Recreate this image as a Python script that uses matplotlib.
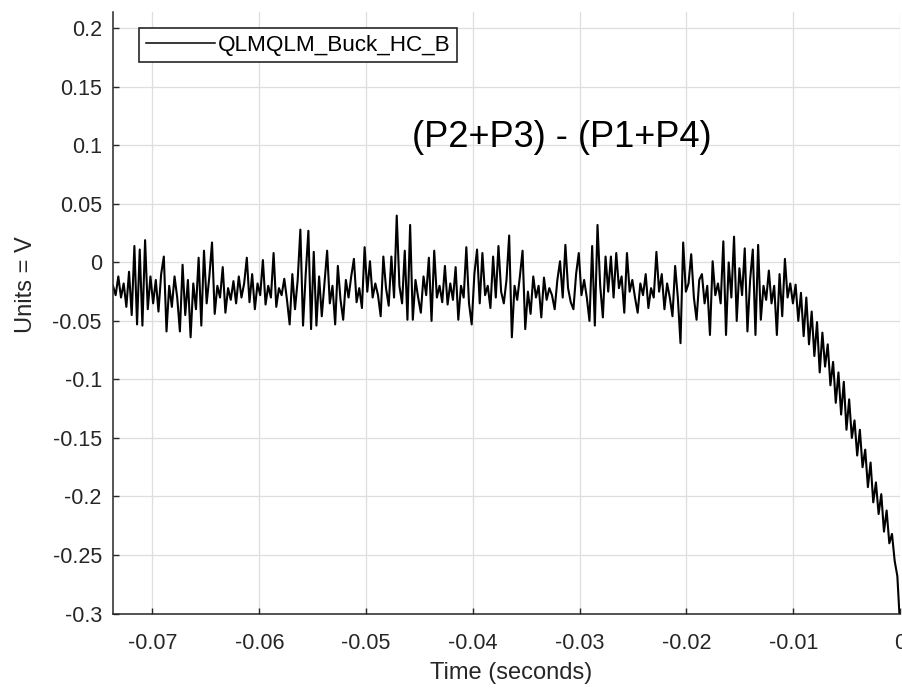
import matplotlib
matplotlib.use('Agg')
import matplotlib.pyplot as plt
import numpy as np

plt.rcParams['font.family'] = ['Liberation Sans', 'DejaVu Sans']

volts = [
    -0.020, -0.028, -0.012, -0.030, -0.018, -0.038, -0.008, -0.045, 0.014, -0.053,
    0.011, -0.054, 0.019, -0.040, -0.012, -0.035, -0.015, -0.042, -0.010, 0.005,
    -0.059, -0.020, -0.038, -0.012, -0.030, -0.059, -0.002, -0.045, -0.015, -0.064,
    -0.018, -0.040, 0.004, -0.054, 0.010, -0.035, -0.012, 0.017, -0.044, -0.020,
    -0.030, -0.004, -0.043, -0.022, -0.032, -0.016, -0.035, -0.012, -0.030, -0.018,
    0.004, -0.034, -0.010, -0.040, -0.018, -0.028, 0.002, -0.036, -0.020, -0.030,
    0.008, -0.038, -0.022, -0.028, -0.014, -0.032, -0.053, -0.010, -0.040, -0.015,
    0.028, -0.054, -0.010, 0.027, -0.057, 0.009, -0.054, -0.012, -0.046, -0.018,
    0.010, -0.035, -0.020, -0.053, -0.003, -0.032, -0.049, -0.015, -0.030, -0.012,
    0.003, -0.034, -0.022, -0.039, 0.013, -0.025, 0.001, -0.030, -0.018, -0.028,
    -0.046, 0.005, -0.022, -0.037, 0.005, -0.030, 0.040, -0.020, -0.035, 0.010,
    -0.049, 0.032, -0.049, -0.015, -0.030, -0.043, -0.012, -0.028, 0.004, -0.050,
    0.010, -0.030, -0.020, -0.034, -0.003, -0.036, -0.018, -0.032, -0.004, -0.049,
    -0.020, -0.030, 0.013, -0.035, -0.053, -0.010, 0.011, -0.035, 0.008, -0.028,
    -0.020, -0.039, 0.005, -0.030, 0.014, -0.025, -0.035, -0.015, 0.023, -0.064,
    -0.020, -0.032, -0.012, 0.010, -0.057, -0.025, -0.044, -0.012, -0.030, -0.020,
    -0.047, -0.013, -0.032, -0.022, -0.028, -0.040, -0.015, 0.001, -0.030, 0.015,
    -0.022, -0.034, -0.040, -0.010, 0.008, -0.028, -0.015, -0.030, -0.050, 0.014,
    -0.054, 0.032, -0.020, -0.047, 0.005, -0.025, 0.005, -0.030, 0.008, -0.022,
    -0.012, -0.043, 0.008, -0.025, -0.015, -0.030, -0.043, -0.018, -0.028, -0.010,
    -0.039, -0.022, -0.030, 0.009, -0.025, -0.010, -0.040, -0.018, -0.030, -0.046,
    -0.003, -0.030, -0.069, 0.017, -0.025, -0.018, 0.007, -0.030, -0.049, -0.015,
    -0.010, -0.035, -0.020, -0.062, 0.001, -0.028, -0.018, -0.035, 0.018, -0.062,
    0.000, -0.030, 0.022, -0.050, -0.005, -0.028, 0.012, -0.059, -0.015, 0.011,
    -0.062, 0.015, -0.049, -0.020, -0.032, -0.007, -0.035, -0.020, -0.062, -0.010,
    -0.046, 0.003, -0.030, -0.018, -0.035, -0.019, -0.050, -0.026, -0.063, -0.030,
    -0.070, -0.042, -0.080, -0.051, -0.094, -0.060, -0.089, -0.070, -0.105, -0.085,
    -0.120, -0.094, -0.130, -0.102, -0.143, -0.117, -0.150, -0.135, -0.165, -0.143,
    -0.175, -0.160, -0.192, -0.171, -0.205, -0.188, -0.215, -0.198, -0.230, -0.212,
    -0.240, -0.232, -0.255, -0.268, -0.310,
]
t_start = -0.0737
t_end = 0.0

xticks = [-0.07, -0.06, -0.05, -0.04, -0.03, -0.02, -0.01, 0.0]
xticklabels = ['-0.07', '-0.06', '-0.05', '-0.04', '-0.03', '-0.02', '-0.01', '0']
yticks = [-0.3, -0.25, -0.2, -0.15, -0.1, -0.05, 0.0, 0.05, 0.1, 0.15, 0.2]
yticklabels = ['-0.3', '-0.25', '-0.2', '-0.15', '-0.1', '-0.05', '0', '0.05', '0.1', '0.15', '0.2']

series_name = 'QLMQLM_Buck_HC_B'
note = '(P2+P3) - (P1+P4)'

t = np.linspace(t_start, t_end, len(volts))

ink = '#262626'
fig = plt.figure(figsize=(9.03, 6.92), dpi=100)
ax = fig.add_axes([0.1251, 0.1134, 0.8716, 0.8697])

ax.plot(t, volts, color='black', linewidth=1.5, label=series_name)

ax.set_xlim(t_start, t_end)
ax.set_ylim(-0.3, 0.2142)
ax.set_xticks(xticks)
ax.set_xticklabels(xticklabels)
ax.set_yticks(yticks)
ax.set_yticklabels(yticklabels)

ax.grid(True, color='#dedede', linewidth=0.9)
ax.set_axisbelow(True)
for s in ['top', 'right']:
    ax.spines[s].set_visible(False)
for s in ['left', 'bottom']:
    ax.spines[s].set_color(ink)
    ax.spines[s].set_linewidth(1.1)

ax.tick_params(axis='both', direction='in', length=4.3, width=1.0, colors=ink, labelsize=15.5)
ax.tick_params(axis='x', pad=14)
ax.tick_params(axis='y', pad=8)

ax.set_xlabel('Time (seconds)', fontsize=17, color=ink)
ax.set_ylabel('Units = V', fontsize=17, color=ink)
ax.xaxis.set_label_coords(0.506, -0.080)
ax.yaxis.set_label_coords(-0.0966, 0.546)

ax.text(-0.0457, 0.099, note, fontsize=26, color='black', va='baseline', ha='left')

leg = ax.legend(loc='upper left', bbox_to_anchor=(0.033, 0.973), borderaxespad=0,
                fontsize=16.2, handlelength=3.1, handletextpad=0.1, borderpad=0.3,
                fancybox=False, framealpha=1)
leg.get_frame().set_edgecolor(ink)
leg.get_frame().set_linewidth(1.2)
for line in leg.get_lines():
    line.set_linewidth(1.1)

fig.savefig('out.png', dpi=100)
